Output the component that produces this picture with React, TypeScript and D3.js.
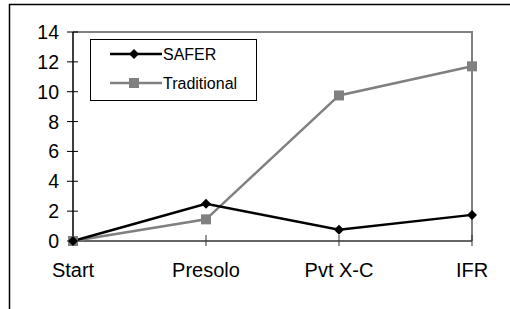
import React, { useEffect, useRef } from "react";
import * as d3 from "d3";

const categories = ["Start", "Presolo", "Pvt X-C", "IFR"];
const saferValues = [0, 2.5, 0.75, 1.75];
const traditionalValues = [0, 1.45, 9.75, 11.7];
const yTicks = [0, 2, 4, 6, 8, 10, 12, 14];

const App = () => {
  const svgRef = useRef<SVGSVGElement>(null);

  useEffect(() => {
    const width = 510;
    const height = 309;
    const svg = d3.select(svgRef.current);
    svg.selectAll("*").remove();
    svg.attr("width", width).attr("height", height);

    const font = "'Liberation Sans', Arial, sans-serif";

    svg.append("rect").attr("width", width).attr("height", height).attr("fill", "#fff");

    // outer chart border (only top/left visible in the crop)
    svg.append("path")
      .attr("d", `M9.5,${height} V4.5 H${width}`)
      .attr("fill", "none")
      .attr("stroke", "#000")
      .attr("stroke-width", 1.5);

    const left = 73, right = 472, top = 32, bottom = 241;

    const x = d3.scalePoint<string>().domain(categories).range([left, right]);
    const y = d3.scaleLinear().domain([0, 14]).range([bottom, top]);

    // plot area frame: grey top + right
    svg.append("path")
      .attr("d", `M${left},${top} H${right} V${bottom}`)
      .attr("fill", "none")
      .attr("stroke", "#808080")
      .attr("stroke-width", 2);

    // y axis
    const yAxis = svg.append("g").attr("transform", `translate(${left},0)`);
    yAxis.append("line").attr("y1", top).attr("y2", bottom).attr("stroke", "#000").attr("stroke-width", 1.5);
    yTicks.forEach(t => {
      yAxis.append("line")
        .attr("x1", -6).attr("x2", 5)
        .attr("y1", y(t)).attr("y2", y(t))
        .attr("stroke", "#000").attr("stroke-width", 1);
      yAxis.append("text")
        .attr("x", -14).attr("y", y(t))
        .attr("dy", "0.36em")
        .attr("text-anchor", "end")
        .style("font-family", font)
        .style("font-size", "19.5px")
        .text(t);
    });

    // x axis
    const xAxis = svg.append("g").attr("transform", `translate(0,${bottom})`);
    xAxis.append("line").attr("x1", left).attr("x2", right).attr("stroke", "#333").attr("stroke-width", 1.5);
    categories.forEach(c => {
      xAxis.append("line")
        .attr("x1", x(c)!).attr("x2", x(c)!)
        .attr("y1", -6).attr("y2", 5)
        .attr("stroke", "#333").attr("stroke-width", 1);
      xAxis.append("text")
        .attr("x", x(c)!).attr("y", 36)
        .attr("text-anchor", "middle")
        .style("font-family", font)
        .style("font-size", "20px")
        .text(c);
    });

    const line = d3.line<number>()
      .x((d, i) => x(categories[i])!)
      .y(d => y(d));

    const diamond = (cx: number, cy: number, r: number) =>
      `M${cx},${cy - r} L${cx + r},${cy} L${cx},${cy + r} L${cx - r},${cy} Z`;

    // Traditional
    svg.append("path")
      .datum(traditionalValues)
      .attr("d", line)
      .attr("fill", "none")
      .attr("stroke", "#808080")
      .attr("stroke-width", 2.5);

    // SAFER
    svg.append("path")
      .datum(saferValues)
      .attr("d", line)
      .attr("fill", "none")
      .attr("stroke", "#000")
      .attr("stroke-width", 2.5);

    svg.selectAll(".sq")
      .data(traditionalValues)
      .enter()
      .append("rect")
      .attr("x", (d, i) => x(categories[i])! - 5)
      .attr("y", d => y(d) - 5)
      .attr("width", 10)
      .attr("height", 10)
      .attr("fill", "#808080");

    svg.selectAll(".dm")
      .data(saferValues)
      .enter()
      .append("path")
      .attr("d", (d, i) => diamond(x(categories[i])!, y(d), 5))
      .attr("fill", "#000");

    // legend
    const legend = svg.append("g");
    legend.append("rect")
      .attr("x", 90.5).attr("y", 39.5)
      .attr("width", 166).attr("height", 61)
      .attr("fill", "#fff")
      .attr("stroke", "#000")
      .attr("stroke-width", 1);

    legend.append("line").attr("x1", 110).attr("x2", 162).attr("y1", 54).attr("y2", 54)
      .attr("stroke", "#000").attr("stroke-width", 2.5);
    legend.append("path").attr("d", diamond(134, 54, 5)).attr("fill", "#000");
    legend.append("text").attr("x", 163).attr("y", 54).attr("dy", "0.36em")
      .style("font-family", font).style("font-size", "16px").text("SAFER");

    legend.append("line").attr("x1", 110).attr("x2", 162).attr("y1", 83).attr("y2", 83)
      .attr("stroke", "#808080").attr("stroke-width", 2.5);
    legend.append("rect").attr("x", 129).attr("y", 78).attr("width", 10).attr("height", 10).attr("fill", "#808080");
    legend.append("text").attr("x", 163).attr("y", 83).attr("dy", "0.36em")
      .style("font-family", font).style("font-size", "16px").text("Traditional");
  }, []);

  return <svg ref={svgRef} style={{ position: "absolute", left: 0, top: 0, display: "block" }}></svg>;
};

export default App;
